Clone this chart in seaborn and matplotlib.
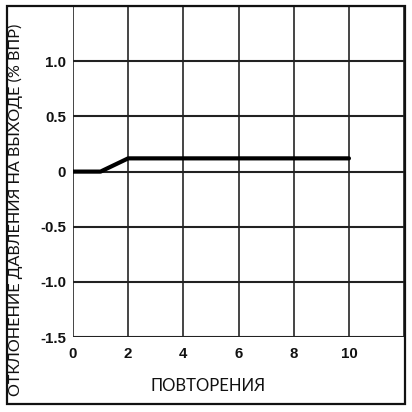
import matplotlib
matplotlib.use("Agg")
import matplotlib.pyplot as plt
import matplotlib.patches as patches
import seaborn as sns
import pandas as pd

# Data
repeats = [0, 1, 2, 3, 4, 5, 6, 7, 8, 9, 10]
deviation = [0, 0, 0.12, 0.12, 0.12, 0.12, 0.12, 0.12, 0.12, 0.12, 0.12]
x_ticks = [0, 2, 4, 6, 8, 10]
y_ticks = [-1.5, -1.0, -0.5, 0, 0.5, 1.0]
y_tick_labels = ['-1.5', '-1.0', '-0.5', '0', '0.5', '1.0']

df = pd.DataFrame({'repeats': repeats, 'deviation': deviation})

sns.set_style('white')
plt.rcParams['font.family'] = ['Liberation Sans', 'DejaVu Sans']

fig = plt.figure(figsize=(4.12, 4.12), dpi=100)
ax = fig.add_axes([0.177, 0.182, 0.804, 0.803])

sns.lineplot(data=df, x='repeats', y='deviation', ax=ax, color='black', linewidth=3.0)

ax.set_xlim(0, 12)
ax.set_ylim(-1.5, 1.5)

# grid
for gx in range(0, 13, 2):
    ax.axvline(gx, color='#444444', linewidth=1.4, zorder=0)
for gy in [-1.5, -1.0, -0.5, 0, 0.5, 1.0, 1.5]:
    ax.axhline(gy, color='#222222', linewidth=1.5, zorder=0)

ax.set_xticks(x_ticks)
ax.set_yticks(y_ticks)
ax.set_yticklabels(y_tick_labels)
ax.tick_params(length=0, labelsize=10.8)
ax.tick_params(axis='x', pad=7)
ax.tick_params(axis='y', pad=5)
for lab in ax.get_xticklabels() + ax.get_yticklabels():
    lab.set_fontweight('bold')
    lab.set_color('#111111')

for s in ax.spines.values():
    s.set_visible(False)

ax.set_xlabel('')
ax.set_ylabel('')
fig.text(0.505, 0.063, 'ПОВТОРЕНИЯ', family=['Lato', 'DejaVu Sans'],
         fontsize=12, ha='center', va='center', color='#111111')
fig.text(0.037, 0.49, 'ОТКЛОНЕНИЕ ДАВЛЕНИЯ НА ВЫХОДЕ (% ВПР)', rotation=90,
         family=['Lato', 'DejaVu Sans'], fontsize=11.6, ha='center', va='center',
         color='#111111')

# outer frame
fig.patches.append(patches.Rectangle((6.5 / 412, 8 / 412), 398 / 412, 398 / 412,
                                     transform=fig.transFigure, fill=False,
                                     edgecolor='#111111', linewidth=1.6))

fig.savefig('out.png', dpi=100)
